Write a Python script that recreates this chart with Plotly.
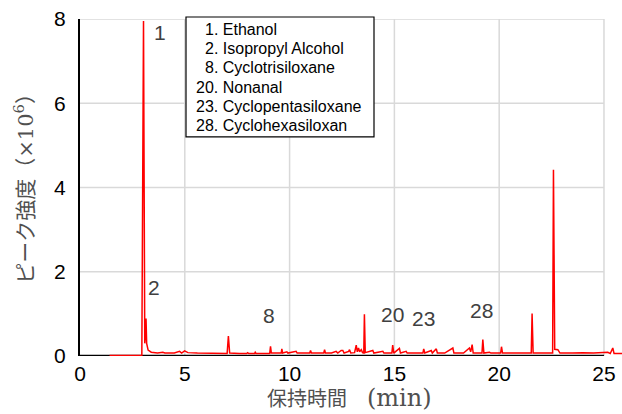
import plotly.graph_objects as go

# Chromatogram trace: retention time (min) and intensity (x10^6)
retention_time = [
    1.41, 2.95, 3.03, 3.09, 3.12, 3.15, 3.18, 3.25, 3.40, 3.70, 3.95, 4.05, 4.50, 4.75, 4.85,
    4.99, 5.15, 5.60, 6.50, 7.02, 7.08, 7.14, 7.60, 7.95, 8.00, 8.05, 8.33, 8.36, 8.40, 9.05,
    9.09, 9.13, 9.60, 9.63, 9.67, 9.87, 9.92, 10.31, 10.36, 10.70, 10.96, 11.00, 11.04, 11.40,
    11.63, 11.67, 11.71, 12.00, 12.22, 12.30, 12.46, 12.54, 12.60, 12.82, 12.86, 12.92, 13.10,
    13.18, 13.23, 13.29, 13.34, 13.42, 13.48, 13.54, 13.57, 13.61, 13.97, 14.02, 14.45, 14.50,
    14.88, 14.92, 14.97, 15.24, 15.29, 15.56, 15.61, 16.00, 16.36, 16.40, 16.45, 16.76, 16.81,
    17.00, 17.05, 17.40, 17.79, 17.84, 18.30, 18.58, 18.64, 18.71, 18.76, 19.18, 19.22, 19.27,
    19.54, 19.60, 20.07, 20.11, 20.16, 20.60, 21.11, 21.20, 21.53, 21.57, 21.62, 22.20, 22.55,
    22.59, 22.65, 22.80, 22.90, 23.50, 23.99, 24.50, 25.18, 25.30, 25.42, 25.48, 25.86,
]
intensity = [
    0.01, 0.01, 7.95, 0.30, 0.50, 0.89, 0.30, 0.14, 0.09, 0.07, 0.09, 0.07, 0.07, 0.11, 0.07,
    0.12, 0.08, 0.07, 0.06, 0.06, 0.475, 0.07, 0.06, 0.06, 0.08, 0.06, 0.06, 0.09, 0.06, 0.06,
    0.23, 0.07, 0.07, 0.17, 0.07, 0.10, 0.07, 0.11, 0.07, 0.07, 0.07, 0.13, 0.07, 0.07,
    0.07, 0.15, 0.07, 0.07, 0.11, 0.07, 0.13, 0.13, 0.07, 0.11, 0.15, 0.07, 0.08,
    0.26, 0.10, 0.19, 0.10, 0.15, 0.08, 0.07, 0.99, 0.08, 0.13, 0.07, 0.11, 0.07,
    0.07, 0.26, 0.07, 0.18, 0.07, 0.11, 0.07, 0.07, 0.07, 0.17, 0.07, 0.13, 0.07,
    0.17, 0.07, 0.07, 0.19, 0.07, 0.07, 0.19, 0.10, 0.27, 0.07, 0.07, 0.39, 0.07,
    0.09, 0.07, 0.07, 0.22, 0.07, 0.07, 0.08, 0.07, 0.07, 1.01, 0.07, 0.07, 0.07,
    4.42, 0.16, 0.15, 0.07, 0.07, 0.08, 0.07, 0.09, 0.06, 0.19, 0.06, 0.06,
]

# Numbered peak labels
peak_ids = ["1", "2", "8", "20", "23", "28"]
peak_label_t = [3.80, 3.51, 9.04, 14.89, 16.37, 19.18]
peak_label_y = [7.68, 1.62, 0.95, 0.99, 0.90, 1.09]

# Compound key
key_numbers = ["1.", "2.", "8.", "20.", "23.", "28."]
key_names = ["Ethanol", "Isopropyl Alcohol", "Cyclotrisiloxane", "Nonanal",
             "Cyclopentasiloxane", "Cyclohexasiloxan"]

x_ticks = [0, 5, 10, 15, 20, 25]
y_ticks = [0, 2, 4, 6, 8]

X_MAX = 25.86
GRID = "#d9d9d9"
TEXT = "#404040"
TITLE = "#505050"
LATIN = "Liberation Sans, Arial, sans-serif"
JP = "DejaVu Serif, Noto Sans CJK JP, serif"

fig = go.Figure()
fig.add_trace(go.Scatter(
    x=retention_time, y=intensity, mode="lines",
    line=dict(color="#ff0000", width=1.5), hoverinfo="skip", showlegend=False,
))

shapes = []
for gx in x_ticks[1:]:
    shapes.append(dict(type="line", xref="x", yref="y", x0=gx, x1=gx, y0=0, y1=8,
                       line=dict(color=GRID, width=1.5), layer="below"))
for gy in y_ticks[1:]:
    shapes.append(dict(type="line", xref="x", yref="y", x0=0, x1=25, y0=gy, y1=gy,
                       line=dict(color=GRID, width=1.5), layer="below"))
# Time axis baseline stops at 25 min
shapes.append(dict(type="line", xref="x", yref="y", x0=0, x1=25, y0=0, y1=0,
                   line=dict(color="#000000", width=2.5), layer="below"))
# Key frame
shapes.append(dict(type="rect", xref="paper", yref="paper",
                   x0=(186 - 80) / 542, x1=(374 - 80) / 542,
                   y0=(356.5 - 137) / 337.5, y1=(356.5 - 17) / 337.5,
                   line=dict(color="#000000", width=1.2), fillcolor="white", layer="above"))

annotations = []
for pid, tx, ty in zip(peak_ids, peak_label_t, peak_label_y):
    annotations.append(dict(x=tx, y=ty, xref="x", yref="y", text=pid, showarrow=False,
                            font=dict(family=LATIN, size=21, color=TEXT)))

line_centers = [30, 49, 68, 87.5, 106.5, 126]
for num, name, cy in zip(key_numbers, key_names, line_centers):
    left = 194 if len(num) == 3 else 203
    annotations.append(dict(x=(left - 80) / 542, y=(356.5 - cy) / 337.5,
                            xref="paper", yref="paper", xanchor="left", yanchor="middle",
                            text=f"{num} {name}", showarrow=False,
                            font=dict(family=LATIN, size=16, color="#000000")))

# Axis titles
annotations.append(dict(x=12.88, y=(356.5 - 399) / 337.5, xref="x", yref="paper",
                        xanchor="center", yanchor="middle",
                        text="保持時間　<span style='font-size:24px'>(min)</span>",
                        showarrow=False, font=dict(family=JP, size=20, color=TITLE)))
annotations.append(dict(x=(24 - 80) / 542, y=(356.5 - 184) / 337.5, xref="paper", yref="paper",
                        xanchor="center", yanchor="middle", textangle=-90,
                        text="ピーク強度（×10<sup>6</sup>）",
                        showarrow=False, font=dict(family=JP, size=21, color=TITLE)))

fig.update_layout(
    width=622, height=414,
    margin=dict(l=80, r=0, t=19, b=57.5),
    paper_bgcolor="white", plot_bgcolor="white",
    shapes=shapes, annotations=annotations,
    xaxis=dict(range=[0, X_MAX], tickvals=x_ticks, ticktext=[str(v) for v in x_ticks],
               showgrid=False, zeroline=False, showline=False, ticks="",
               ticklabelstandoff=3,
               tickfont=dict(family=LATIN, size=21, color="#000000")),
    yaxis=dict(range=[0, 8], tickvals=y_ticks, ticktext=[str(v) for v in y_ticks],
               showgrid=False, zeroline=False, showline=True, linecolor="#000000",
               linewidth=2, ticks="", ticklabelstandoff=8,
               tickfont=dict(family=LATIN, size=21, color="#000000")),
)

fig.write_html("out.html")
